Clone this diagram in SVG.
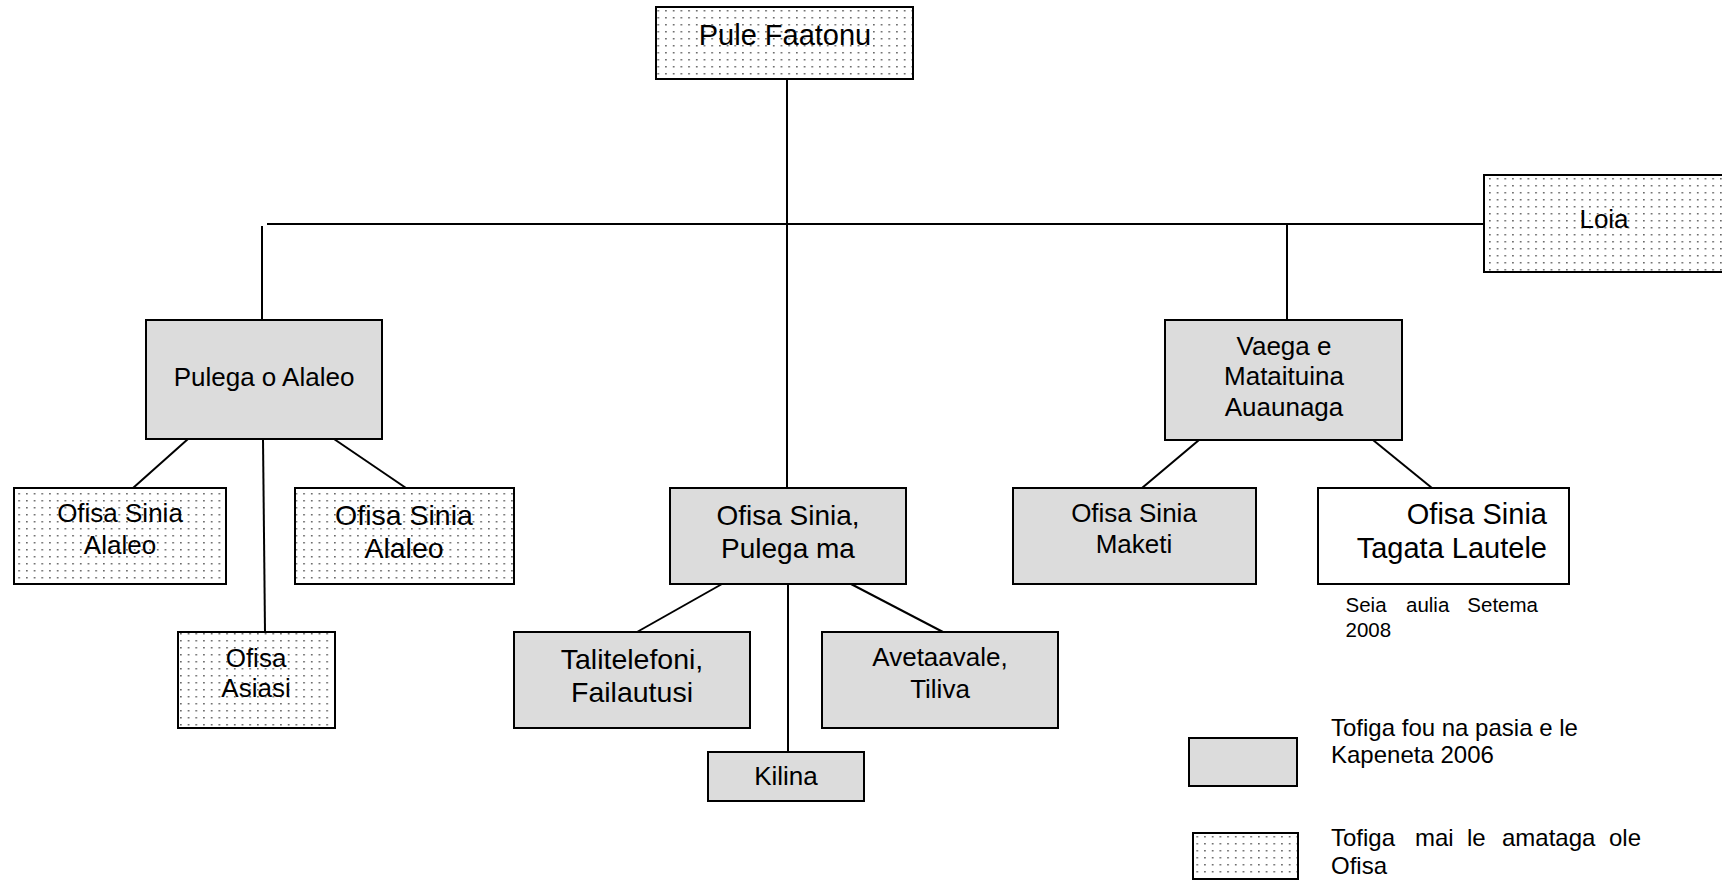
<svg xmlns="http://www.w3.org/2000/svg" width="1722" height="880" viewBox="0 0 1722 880">
<style>
text{font-family:"Liberation Sans",Arial,sans-serif;fill:#000}
.b{stroke:#000;stroke-width:2}
.g{fill:#dcdcdc}
.d{fill:url(#dots)}
.w{fill:#fff}
.c{text-anchor:middle}
.f26{font-size:26px}
.f28{font-size:28px}
.conn line{stroke:#000;stroke-width:2}
</style>
<defs>
<pattern id="dots" width="7.7" height="7" patternUnits="userSpaceOnUse">
<rect width="7.7" height="7" fill="#fff"/>
<rect x="3" y="3" width="1.5" height="1.5" fill="#555"/>
</pattern>
</defs>
<rect width="1722" height="880" fill="#fff"/>
<g id="connectors" class="conn">
<line x1="787" y1="79" x2="787" y2="488"/>
<line x1="267" y1="224" x2="1484" y2="224"/>
<line x1="262" y1="226" x2="262" y2="320"/>
<line x1="1287" y1="224" x2="1287" y2="320"/>
<line x1="188" y1="439" x2="133" y2="488"/>
<line x1="263" y1="439" x2="265" y2="632"/>
<line x1="334" y1="439" x2="406" y2="488"/>
<line x1="722" y1="584" x2="637" y2="632"/>
<line x1="851" y1="584" x2="943" y2="632"/>
<line x1="788" y1="584" x2="788" y2="752"/>
<line x1="1199" y1="440" x2="1142" y2="488"/>
<line x1="1373" y1="440" x2="1432" y2="488"/>
</g>
<g id="pule-faatonu">
<rect class="b d" x="656" y="7" width="257" height="72"/>
<text class="c" x="785" y="45" font-size="29">Pule Faatonu</text>
</g>
<g id="loia">
<rect class="b d" x="1484" y="175" width="250" height="97"/>
<text class="c f26" x="1604" y="228">Loia</text>
</g>
<g id="pulega-o-alaleo">
<rect class="b g" x="146" y="320" width="236" height="119"/>
<text class="c f26" x="264" y="386">Pulega o Alaleo</text>
</g>
<g id="ofisa-sinia-alaleo-1">
<rect class="b d" x="14" y="488" width="212" height="96"/>
<text class="c f26" x="120" y="522">Ofisa Sinia</text>
<text class="c f26" x="120" y="554">Alaleo</text>
</g>
<g id="ofisa-sinia-alaleo-2">
<rect class="b d" x="295" y="488" width="219" height="96"/>
<text class="c" font-size="28.5" x="404" y="525">Ofisa Sinia</text>
<text class="c" font-size="28.5" x="404" y="558">Alaleo</text>
</g>
<g id="ofisa-asiasi">
<rect class="b d" x="178" y="632" width="157" height="96"/>
<text class="c f26" x="256" y="667">Ofisa</text>
<text class="c f26" x="256" y="697">Asiasi</text>
</g>
<g id="ofisa-sinia-pulega-ma">
<rect class="b g" x="670" y="488" width="236" height="96"/>
<text class="c f28" x="788" y="525">Ofisa Sinia,</text>
<text class="c f28" x="788" y="558">Pulega ma</text>
</g>
<g id="talitelefoni">
<rect class="b g" x="514" y="632" width="236" height="96"/>
<text class="c" font-size="28.5" x="632" y="669">Talitelefoni,</text>
<text class="c" font-size="28.5" x="632" y="702">Failautusi</text>
</g>
<g id="avetaavale">
<rect class="b g" x="822" y="632" width="236" height="96"/>
<text class="c f26" x="940" y="666">Avetaavale,</text>
<text class="c f26" x="940" y="698">Tiliva</text>
</g>
<g id="kilina">
<rect class="b g" x="708" y="752" width="156" height="49"/>
<text class="c f26" x="786" y="785">Kilina</text>
</g>
<g id="vaega">
<rect class="b g" x="1165" y="320" width="237" height="120"/>
<text class="c f26" x="1284" y="355">Vaega e</text>
<text class="c f26" x="1284" y="385">Mataituina</text>
<text class="c f26" x="1284" y="416">Auaunaga</text>
</g>
<g id="ofisa-sinia-maketi">
<rect class="b g" x="1013" y="488" width="243" height="96"/>
<text class="c f26" x="1134" y="522">Ofisa Sinia</text>
<text class="c f26" x="1134" y="553">Maketi</text>
</g>
<g id="ofisa-sinia-tagata-lautele">
<rect class="b w" x="1318" y="488" width="251" height="96"/>
<text font-size="29" text-anchor="end" x="1547" y="524">Ofisa Sinia</text>
<text font-size="29" text-anchor="end" x="1547" y="558">Tagata Lautele</text>
</g>
<g id="note" font-size="20.5">
<text x="1345.5" y="612">Seia</text>
<text x="1406" y="612">aulia</text>
<text x="1538" y="612" text-anchor="end">Setema</text>
<text x="1345.5" y="637">2008</text>
</g>
<g id="legend-new">
<rect class="b g" x="1189" y="738" width="108" height="48"/>
<text x="1331" y="736" font-size="24">Tofiga fou na pasia e le</text>
<text x="1331" y="763" font-size="24">Kapeneta 2006</text>
</g>
<g id="legend-original" font-size="24">
<rect class="b d" x="1193" y="833" width="105" height="46"/>
<text x="1331" y="846">Tofiga</text>
<text x="1415" y="846">mai</text>
<text x="1467" y="846">le</text>
<text x="1502" y="846">amataga</text>
<text x="1641" y="846" text-anchor="end">ole</text>
<text x="1331" y="874">Ofisa</text>
</g>
</svg>
